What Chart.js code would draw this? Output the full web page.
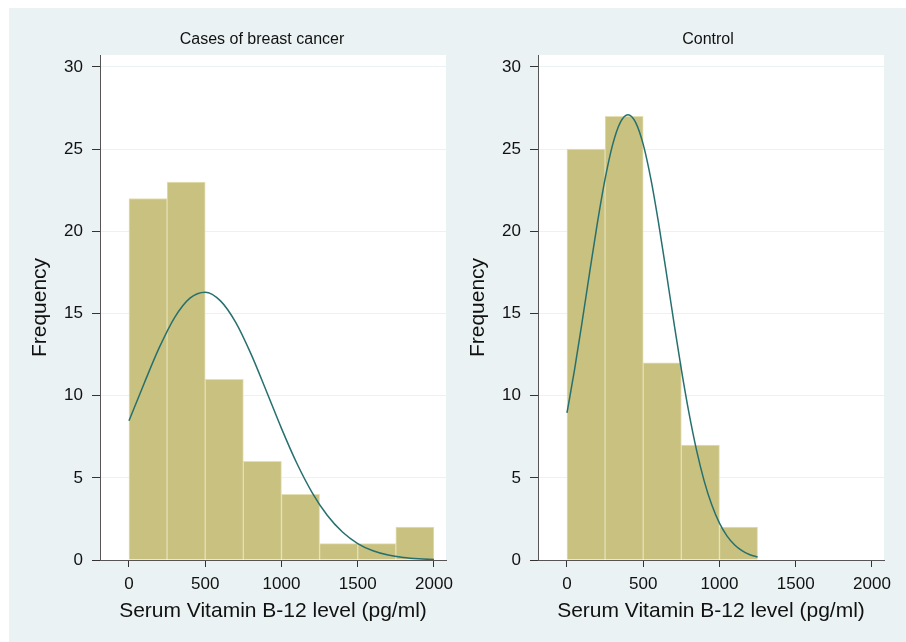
<!DOCTYPE html>
<html>
<head>
<meta charset="utf-8">
<script src="https://cdn.jsdelivr.net/npm/chart.js@4/dist/chart.umd.min.js"></script>
<style>
  html, body { margin: 0; padding: 0; background: #fff; overflow: hidden; }
  #bg { position: absolute; left: 9px; top: 8px; right: 0; bottom: 0; background: #eaf2f3; }
  canvas { position: absolute; top: 0; }
</style>
</head>
<body>
<div id="bg"></div>
<canvas id="casesChart" width="453" height="642" style="left:0px"></canvas>
<canvas id="controlChart" width="468" height="642" style="left:438px"></canvas>
<script>
// histogram bins (mid points, width 250 pg/ml)
let binMids = [125, 375, 625, 875, 1125, 1375, 1625, 1875];
let casesCounts = [22, 23, 11, 6, 4, 1, 1, 2];
let controlCounts = [25, 27, 12, 7, 2];

// normal density overlay
let casesCurveX = [0, 100, 200, 300, 400, 500, 600, 700, 800, 900, 1000,
                   1100, 1200, 1300, 1400, 1500, 1600, 1700, 1800, 1900, 2000];
let casesCurveY = [8.47, 10.76, 12.95, 14.77, 15.94, 16.30, 15.77, 14.46, 12.54, 10.30, 8.01,
                   5.90, 4.12, 2.72, 1.70, 1.00, 0.56, 0.30, 0.15, 0.07, 0.03];
let controlCurveX = [0, 50, 100, 150, 200, 250, 300, 350, 400, 450, 500, 550, 600, 650,
                     700, 750, 800, 850, 900, 950, 1000, 1050, 1100, 1150, 1200, 1250];
let controlCurveY = [8.95, 11.6, 14.53, 17.58, 20.54, 23.19, 25.29, 26.63, 27.1, 26.63, 25.29, 23.19, 20.54, 17.58,
                     14.53, 11.6, 8.95, 6.67, 4.80, 3.34, 2.24, 1.45, 0.91, 0.55, 0.32, 0.18];

let xTicks = [0, 500, 1000, 1500, 2000];
let yTicks = [0, 5, 10, 15, 20, 25, 30];

let fontFamily = '"Liberation Sans", Arial, Helvetica, sans-serif';

const panelPlugin = {
    id: 'panel',
    beforeDraw(chart, args, opts) {
        const { ctx, chartArea: a } = chart;
        ctx.save();
        ctx.fillStyle = '#ffffff';
        ctx.fillRect(a.left, a.top, a.right - a.left, a.bottom - a.top);
        ctx.fillStyle = '#111111';
        ctx.font = '16px ' + fontFamily;
        ctx.textAlign = 'center';
        ctx.textBaseline = 'middle';
        ctx.fillText(opts.text, opts.x, 40);
        ctx.restore();
    }
};

function makeChart(id, counts, curveX, curveY, title, titleX, padRight) {
    let bars = counts.map(function (c, i) { return { x: binMids[i], y: c } });
    let curve = curveX.map(function (x, i) { return { x: x, y: curveY[i] } });

    return new Chart(id, {
        type: 'bar',
        plugins: [panelPlugin],
        data: {
            datasets: [
                {
                    type: 'line',
                    data: curve,
                    borderColor: '#26706e',
                    borderWidth: 1.5,
                    pointRadius: 0,
                    cubicInterpolationMode: 'monotone',
                    order: 0
                },
                {
                    data: bars,
                    backgroundColor: 'rgb(201, 193, 128)',
                    borderColor: 'rgb(228, 223, 180)',
                    borderWidth: 1,
                    barPercentage: 1,
                    categoryPercentage: 1,
                    order: 1
                }
            ]
        },
        options: {
            responsive: false,
            animation: false,
            events: [],
            layout: { padding: { top: 55, left: 0, right: padRight, bottom: 0 } },
            plugins: {
                legend: { display: false },
                tooltip: { enabled: false },
                panel: { text: title, x: titleX }
            },
            scales: {
                x: {
                    type: 'linear',
                    min: -190,
                    max: 2079,
                    offset: false,
                    afterBuildTicks: function (s) { s.ticks = xTicks.map(function (v) { return { value: v } }) },
                    afterFit: function (s) { s.height = 82; s.paddingLeft = 0; s.paddingRight = 0; },
                    grid: { offset: false, drawOnChartArea: false, drawTicks: true, tickLength: 7, tickColor: '#333' },
                    border: { color: '#555', width: 1 },
                    ticks: {
                        color: '#111', padding: 7, maxRotation: 0,
                        font: { size: 17, family: fontFamily },
                        callback: function (v) { return String(v) }
                    },
                    title: {
                        display: true,
                        text: 'Serum Vitamin B-12 level (pg/ml)',
                        color: '#111',
                        font: { size: 21, family: fontFamily },
                        padding: { top: 0, bottom: 18 }
                    }
                },
                y: {
                    min: 0,
                    max: 30.73,
                    afterBuildTicks: function (s) { s.ticks = yTicks.map(function (v) { return { value: v } }) },
                    afterFit: function (s) { s.width = 100; },
                    grid: {
                        color: function (c) { return c.tick && c.tick.value === 0 ? 'rgba(0,0,0,0)' : '#eaf2f3' },
                        tickLength: 8,
                        tickColor: '#333'
                    },
                    border: { color: '#555', width: 1 },
                    ticks: { color: '#111', padding: 9, font: { size: 17, family: fontFamily } },
                    title: {
                        display: true,
                        text: 'Frequency',
                        color: '#111',
                        font: { size: 21, family: fontFamily },
                        padding: { top: 28, bottom: 0 }
                    }
                }
            }
        }
    });
}

makeChart('casesChart', casesCounts, casesCurveX, casesCurveY, 'Cases of breast cancer', 262, 7);
makeChart('controlChart', controlCounts, controlCurveX, controlCurveY, 'Control', 708 - 438, 22);
</script>
</body>
</html>
